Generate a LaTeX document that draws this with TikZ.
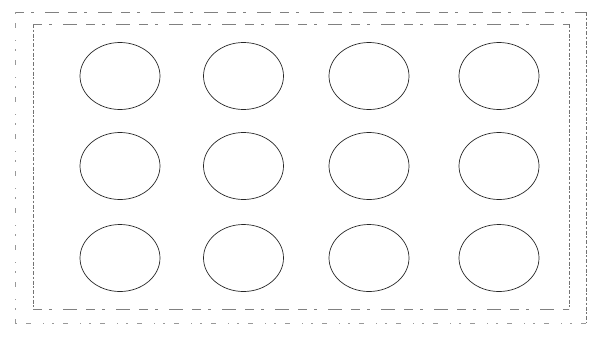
\documentclass[tikz,border=0pt]{standalone}
\usetikzlibrary{shapes.geometric}
\tikzset{
  well/.style={ellipse, draw=black!85, line width=0.7pt, minimum width=80pt, minimum height=67pt, inner sep=0pt},
  frameside/.style={draw=black!55, line width=0.6pt, dash pattern=on 4pt off 1.5pt on 2pt off 2pt},
  framesparse/.style={draw=black!50, line width=0.6pt, dash pattern=on 9pt off 7pt on 3pt off 11pt on 14pt off 9pt},
  framefaint/.style={draw=black!40, line width=0.6pt, dash pattern=on 2pt off 9pt on 5pt off 12pt on 1pt off 8pt},
}
\begin{document}
\begin{tikzpicture}[x=1pt,y=-1pt]
\useasboundingbox (0,0) rectangle (589,338);
% inner frame
\coordinate (iTL) at (33,24);
\coordinate (iTR) at (569,24);
\coordinate (iBR) at (569,309);
\coordinate (iBL) at (33,309);
\draw[frameside] (iTL) -- (iBL);
\draw[frameside] (iTR) -- (iBR);
\draw[framesparse] (iTL) -- (iTR);
\draw[framesparse] (iBL) -- (iBR);
% outer frame
\coordinate (oTL) at (15,12);
\coordinate (oTR) at (586,12);
\coordinate (oBR) at (586,323);
\coordinate (oBL) at (15,323);
\draw[framesparse] (oTL) -- (oTR);
\draw[frameside] (oTR) -- (oBR);
\draw[framefaint] (oTL) -- (oBL);
\draw[framefaint] (oBL) -- (oBR);
% wells
\foreach \c/\x in {1/120,2/243.5,3/369,4/499}{
  \foreach \r/\y in {1/76,2/166,3/258}{
    \node[well] (w\r\c) at (\x,\y) {};
  }
}
\end{tikzpicture}
\end{document}
